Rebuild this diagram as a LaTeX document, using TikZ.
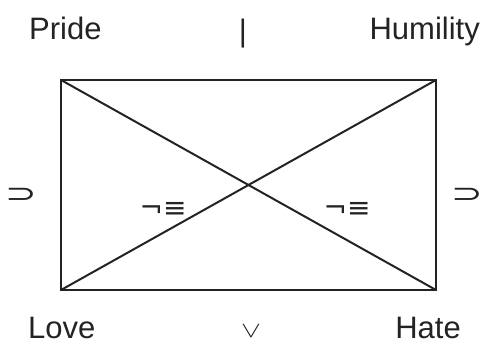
\documentclass[tikz,border=0pt]{standalone}
\usepackage{fontspec}
\setmainfont{Liberation Sans}
\newfontfamily\symfont{DejaVu Sans}
\definecolor{inkgray}{RGB}{35, 35, 35}

\begin{document}
\begin{tikzpicture}[x=1pt, y=-1pt,
    word/.style={font=\fontsize{31}{31}\selectfont, text=inkgray, inner sep=0pt},
    sym/.style={font=\symfont\fontsize{28}{28}\selectfont, text=inkgray, inner sep=0pt},
    impl/.style={sym, font=\symfont\fontsize{26}{26}\selectfont, xscale=1.45, transform shape},
    edge/.style={inkgray, line width=2pt}]
    \useasboundingbox (0,0) rectangle (485,347);

    %% corners of the square
    \coordinate (tl) at (61,80);
    \coordinate (tr) at (436,80);
    \coordinate (bl) at (61,290);
    \coordinate (br) at (436,290);

    \draw[edge] (tl) -- (tr) -- (br) -- (bl) -- cycle;
    \draw[edge] (tl) -- (br);
    \draw[edge] (tr) -- (bl);

    %% corner words
    \node[word, anchor=base west] (pride) at (29,40) {Pride};
    \node[word, anchor=base east] (humility) at (480,40) {Humility};
    \node[word, anchor=base west] (love) at (28,339) {Love};
    \node[word, anchor=base east] (hate) at (461,339) {Hate};

    %% relations
    \node[word] (contrary) at (243,34) {|};
    \node[word, font=\fontsize{24.88}{25}\selectfont, xscale=1.2, yscale=0.9, transform shape] (subcontrary) at (251,331) {$\vee$};
    \node[impl] (leftimp) at (21,195) {⊃};
    \node[impl] (rightimp) at (467,195) {⊃};
    \node[sym] (leftneg) at (163,210) {¬≡};
    \node[sym] (rightneg) at (347,210) {¬≡};
  \end{tikzpicture}
\end{document}
